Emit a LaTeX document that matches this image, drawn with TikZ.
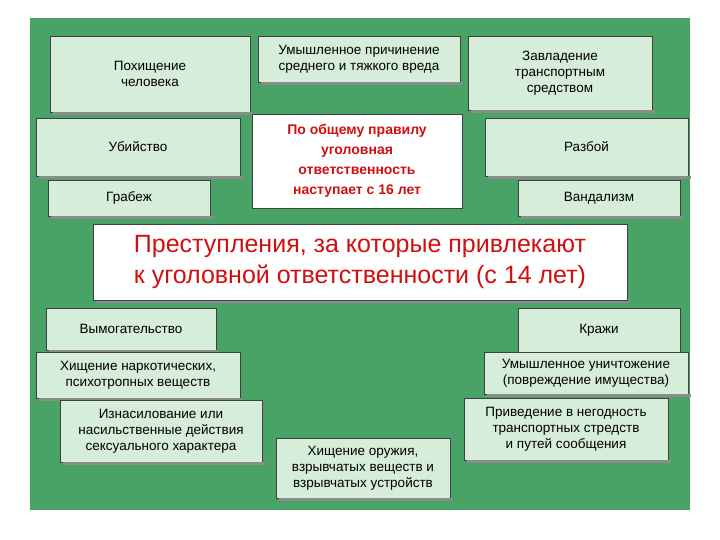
\documentclass[tikz,border=0pt]{standalone}
\usepackage{fontspec}
\setmainfont{Liberation Sans}
\definecolor{bg}{HTML}{4AA366}
\definecolor{bx}{HTML}{D6EDDA}
\definecolor{red1}{HTML}{D01010}
\tikzset{
 bx/.style={draw=black!75,line width=0.8pt,fill=bx,align=center,font=\fontsize{13.5}{16}\selectfont,inner sep=0pt},
}
\newcommand{\bxn}[6]{\node[bx,minimum width=#4-#2,minimum height=#5-#3] (#1) at ({(#2+#4)/2},{(#3+#5)/2}) {#6};
 \fill[black!45] (#2+3,#5) rectangle (#4+3,#5+3);}
\begin{document}
\begin{tikzpicture}[x=1pt,y=-1pt]
\useasboundingbox (0,0) rectangle (720,540);
\fill[white] (0,0) rectangle (720,540);
\fill[bg] (30,18) rectangle (690,510);
\bxn{a}{50}{36}{250}{112}{Похищение\\человека}
\bxn{b}{258}{36}{460}{82}{Умышленное причинение\\среднего и тяжкого вреда}
\bxn{c}{468}{36}{652}{110}{Завладение\\транспортным\\средством}
\bxn{d}{36}{118}{240}{176}{Убийство}
\bxn{f}{485}{118}{688}{176}{Разбой}
\bxn{g}{48}{180}{210}{216}{Грабеж}
\bxn{h}{518}{180}{680}{216}{Вандализм}
\node[draw=black!75,line width=0.8pt,fill=white,minimum width=210,minimum height=94,align=center,text=red1,font=\fontsize{14}{20}\selectfont\bfseries,inner sep=0pt] (e) at (357,161) {По общему правилу\\уголовная\\ответственность\\наступает с 16 лет};
\fill[black!45] (96,300) rectangle (630,303);
\node[draw=black!75,line width=0.8pt,fill=white,minimum width=534,minimum height=76,align=center,text=red1,font=\fontsize{25}{31}\selectfont,inner sep=0pt] (m) at (360,262) {Преступления, за которые привлекают\\к уголовной ответственности (с 14 лет)};
\bxn{i}{46}{308}{216}{350}{Вымогательство}
\bxn{j}{36}{352}{240}{398}{Хищение наркотических,\\психотропных веществ}
\bxn{k}{60}{400}{262}{462}{Изнасилование или\\насильственные действия\\сексуального характера}
\bxn{l}{276}{438}{450}{498}{Хищение оружия,\\взрывчатых веществ и\\взрывчатых устройств}
\bxn{n}{518}{308}{680}{352}{Кражи}
\bxn{o}{484}{352}{688}{394}{Умышленное уничтожение\\(повреждение имущества)}
\bxn{p}{464}{398}{668}{460}{Приведение в негодность\\транспортных стредств\\и путей сообщения}
\end{tikzpicture}
\end{document}
